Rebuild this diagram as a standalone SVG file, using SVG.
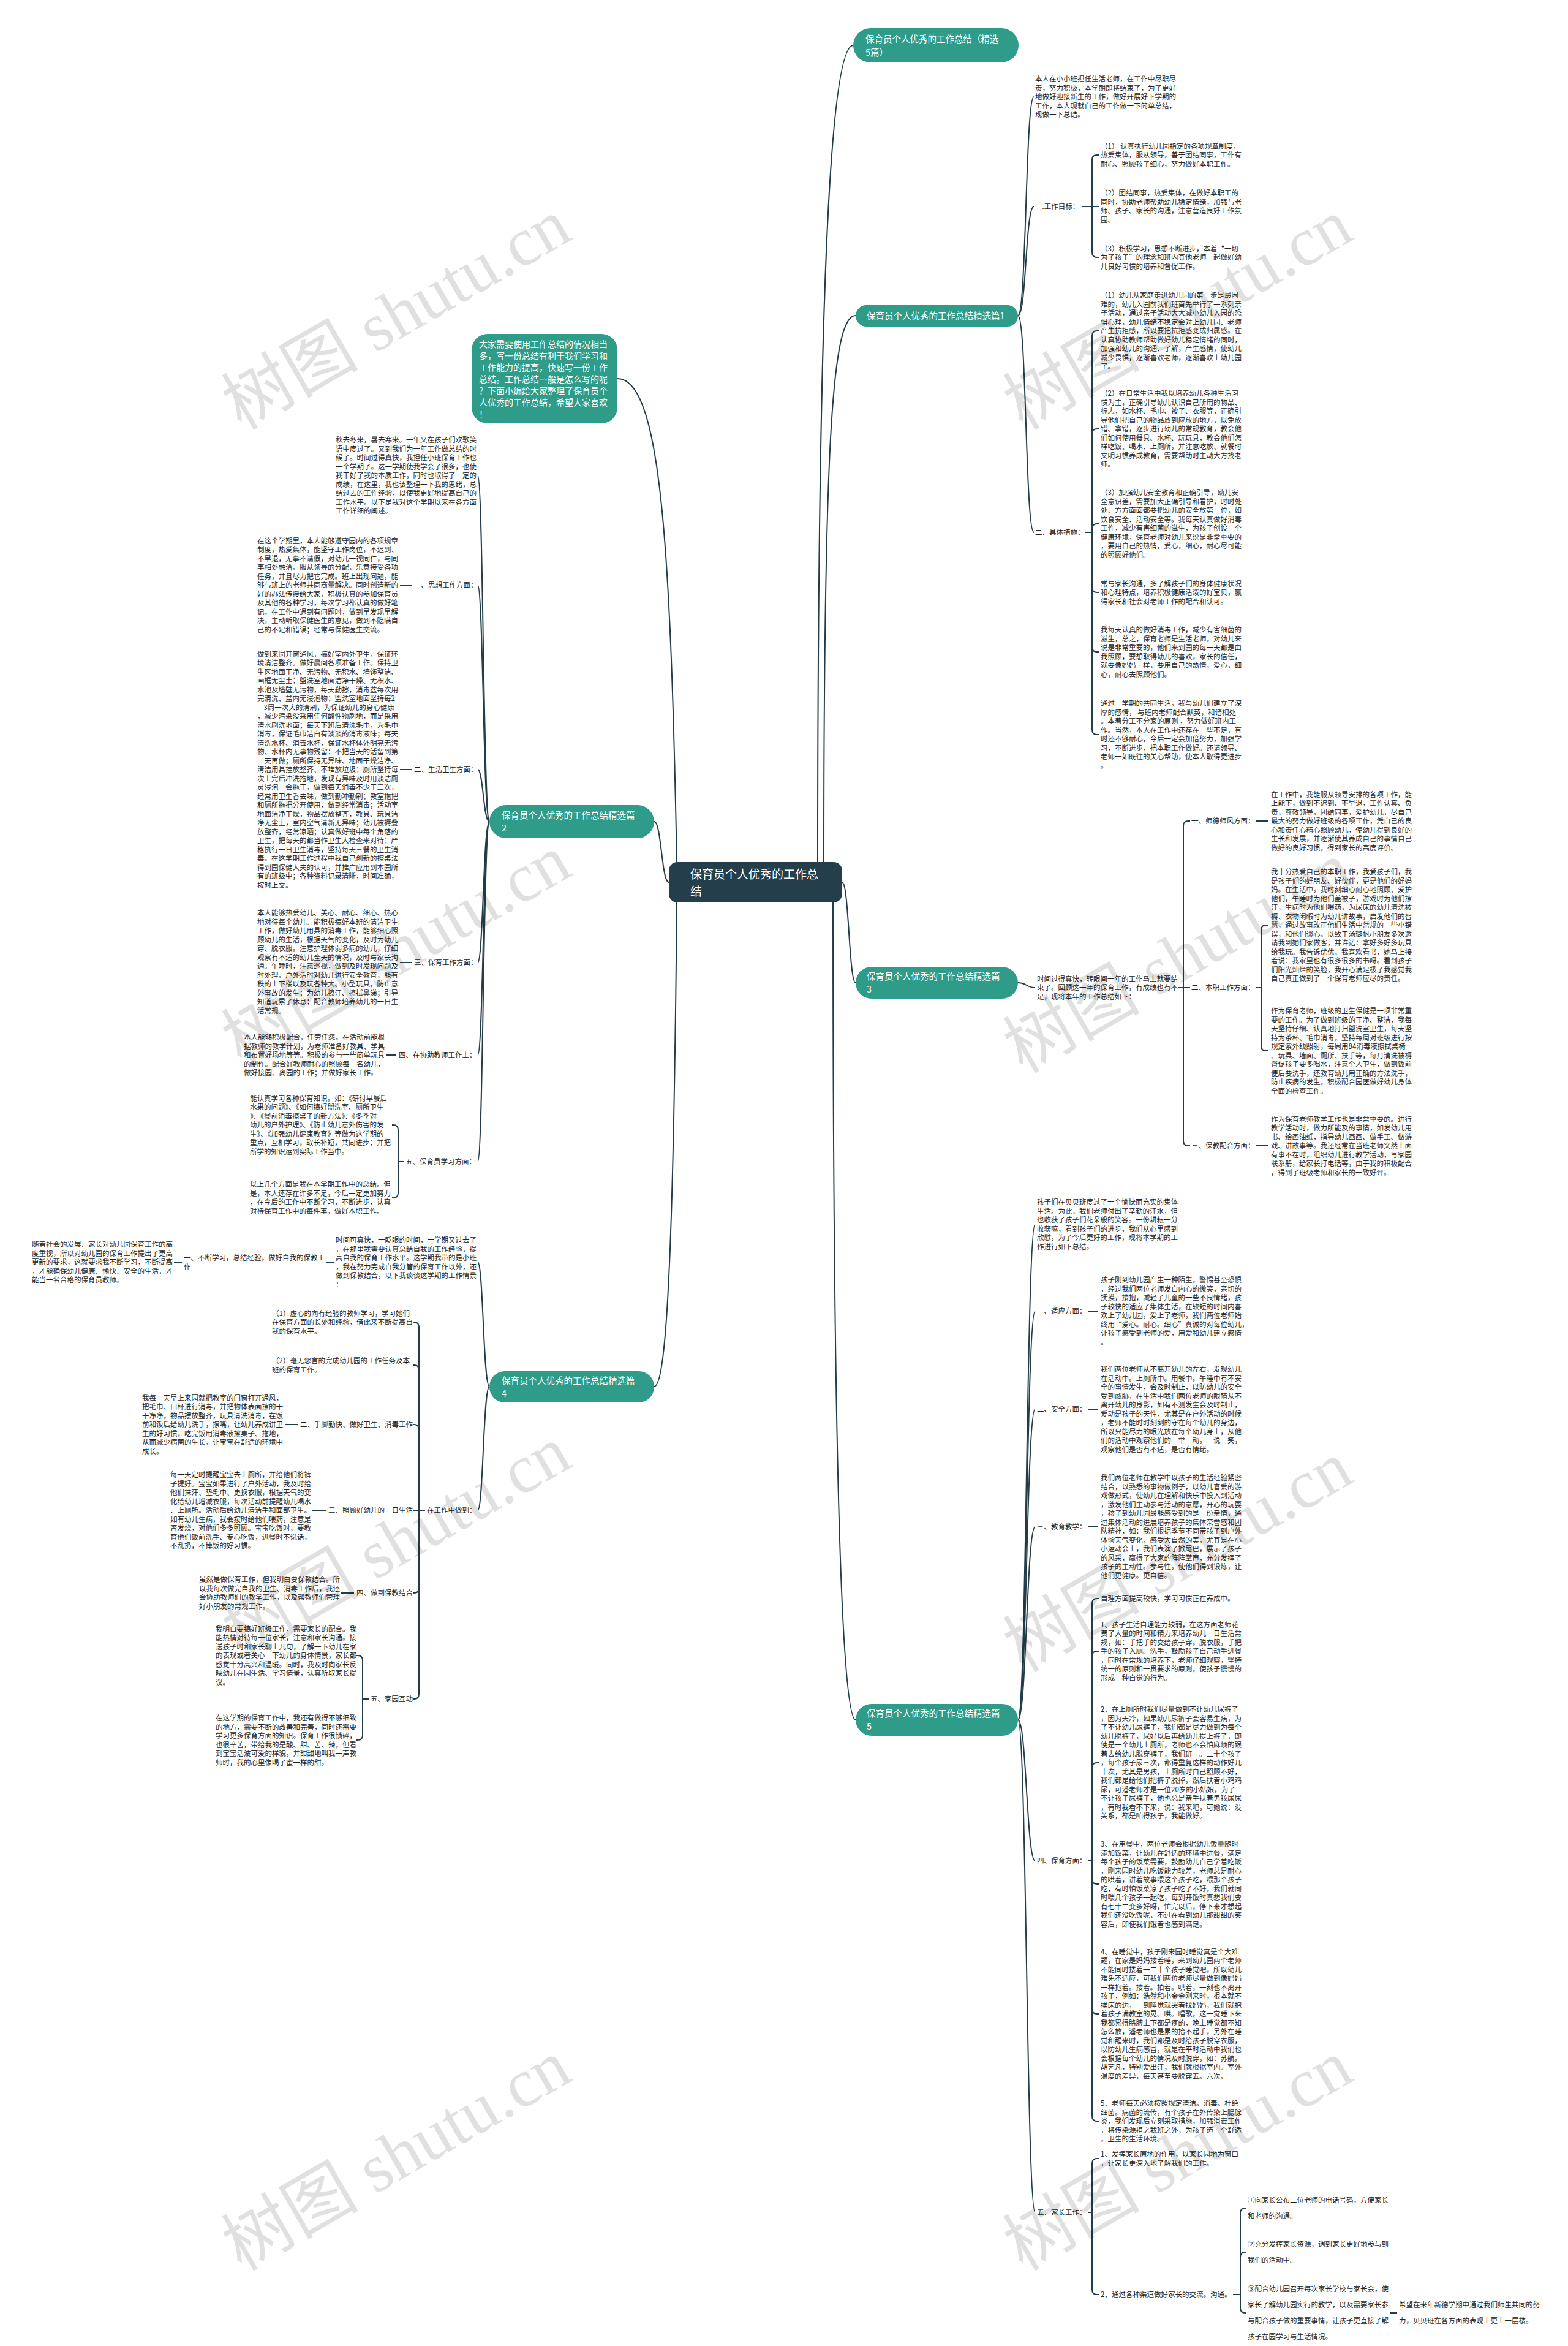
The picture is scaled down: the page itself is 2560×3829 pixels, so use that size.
<svg xmlns="http://www.w3.org/2000/svg" width="2560" height="3829" viewBox="0 0 2560 3829">
<style>
.t{font-family:"Noto Sans CJK SC","Noto Sans",sans-serif;font-size:11.5px;fill:#222}
.nt{font-family:"Noto Sans CJK SC","Noto Sans",sans-serif;font-size:14.5px;fill:#fff}
.ct{font-family:"Noto Sans CJK SC","Noto Sans",sans-serif;font-size:19px;fill:#fff}
.bt{font-family:"Noto Sans CJK SC","Noto Sans",sans-serif;font-size:14px;fill:#fff}
.n{fill:#2f9c89}
.c{fill:none;stroke:#233d48;stroke-width:2}
.wm{font-family:"Liberation Serif","Noto Sans CJK SC",serif;font-size:112px;fill:#000;fill-opacity:0.12}
</style>
<rect width="2560" height="3829" fill="#fff"/>
<g id="connectors">
<path class="c" d="M1335 1407 C1335 600 1350 74 1393 74"/>
<path class="c" d="M1345 1407 C1345 700 1360 515 1397 515"/>
<path class="c" d="M1375 1440 C1386 1440 1386 1604 1397 1604"/>
<path class="c" d="M1360 1473 C1360 2300 1372 2807 1397 2807"/>
<path class="c" d="M1105 1407 C1095 900 1080 618 1008 618"/>
<path class="c" d="M1092 1440 C1080 1440 1080 1341 1068 1341"/>
<path class="c" d="M1105 1473 C1100 2000 1090 2263 1068 2263"/>
<path class="c" d="M1662 515 C1676 515 1674 158 1688 158"/>
<path class="c" d="M1662 515 C1676 515 1674 337 1688 337"/>
<path class="c" d="M1662 515 C1676 515 1674 869 1688 869"/>
<path class="c" d="M1766 337 H1783 M1783 337 V261 Q1783 253 1791 253 H1795 M1783 337 H1795 M1783 337 V412 Q1783 420 1791 420 H1795"/>
<path class="c" d="M1772 869 H1783 M1783 869 V548 Q1783 540 1791 540 H1795 M1783 869 V708 Q1783 700 1791 700 H1795 M1783 869 V863 Q1783 855 1791 855 H1795 M1783 869 V959 Q1783 967 1791 967 H1795 M1783 869 V1056 Q1783 1064 1791 1064 H1795 M1783 869 V1191 Q1783 1199 1791 1199 H1795"/>
<path class="c" d="M1662 1604 C1676 1604 1676 1612 1690 1612"/>
<path class="c" d="M1923 1612 H1932 M1932 1612 V1348 Q1932 1340 1940 1340 H1943 M1932 1612 H1943 M1932 1612 V1862 Q1932 1870 1940 1870 H1943"/>
<path class="c" d="M2050 1340 H2071 M2050 1870 H2071"/>
<path class="c" d="M2050 1612 H2059 M2059 1612 V1518 Q2059 1510 2067 1510 H2071 M2059 1612 V1707 Q2059 1715 2067 1715 H2071"/>
<path class="c" d="M1662 2807 C1676 2807 1676 1998 1690 1998"/>
<path class="c" d="M1662 2807 C1676 2807 1676 2140 1690 2140"/>
<path class="c" d="M1662 2807 C1676 2807 1676 2300 1690 2300"/>
<path class="c" d="M1662 2807 C1676 2807 1676 2492 1690 2492"/>
<path class="c" d="M1662 2807 C1676 2807 1676 3037 1690 3037"/>
<path class="c" d="M1662 2807 C1676 2807 1676 3611 1690 3611"/>
<path class="c" d="M1776 2140 H1793 M1776 2300 H1793 M1776 2492 H1793"/>
<path class="c" d="M1776 3037 H1783 M1783 3037 V2617 Q1783 2609 1791 2609 H1795 M1783 3037 V2703 Q1783 2695 1791 2695 H1795 M1783 3037 V2885 Q1783 2877 1791 2877 H1795 M1783 3037 V3067 Q1783 3075 1791 3075 H1795 M1783 3037 V3279 Q1783 3287 1791 3287 H1795 M1783 3037 V3454 Q1783 3462 1791 3462 H1795"/>
<path class="c" d="M1776 3611 H1783 M1783 3611 V3531 Q1783 3523 1791 3523 H1795 M1783 3611 V3737 Q1783 3745 1791 3745 H1795"/>
<path class="c" d="M2013 3745 H2025 M2025 3745 V3612 Q2025 3604 2033 3604 H2035 M2025 3745 V3684 Q2025 3676 2033 3676 H2035 M2025 3745 V3767 Q2025 3775 2033 3775 H2035"/>
<path class="c" d="M2270 3775 H2281"/>
<path class="c" d="M799 1341 C789 1341 789 776 780 776"/>
<path class="c" d="M799 1341 C789 1341 789 955 780 955"/>
<path class="c" d="M799 1341 C789 1341 789 1256 780 1256"/>
<path class="c" d="M799 1341 C789 1341 789 1571 780 1571"/>
<path class="c" d="M799 1341 C789 1341 789 1722 780 1722"/>
<path class="c" d="M799 1341 C789 1341 789 1896 780 1896"/>
<path class="c" d="M653 955 H672 M653 1256 H672 M653 1571 H672 M631 1722 H647"/>
<path class="c" d="M650 1896 H659 M650 1896 V1844 Q650 1836 642 1836 H640 M650 1896 V1947 Q650 1955 642 1955 H640"/>
<path class="c" d="M799 2263 C789 2263 789 2060 780 2060"/>
<path class="c" d="M799 2263 C789 2263 789 2465 780 2465"/>
<path class="c" d="M532 2060 H545 M284 2060 H297"/>
<path class="c" d="M684 2465 H694 M684 2465 V2166 Q684 2158 676 2158 H674 M684 2465 V2236 Q684 2228 676 2228 H674 M684 2465 V2333 Q684 2325 676 2325 H674 M684 2465 H674 M684 2465 V2592 Q684 2600 676 2600 H674 M684 2465 V2765 Q684 2773 676 2773 H674"/>
<path class="c" d="M465 2325 H486 M510 2465 H532 M557 2600 H578"/>
<path class="c" d="M592 2773 H602 M592 2773 V2710 Q592 2702 584 2702 H582 M592 2773 V2832 Q592 2840 584 2840 H582"/>
</g>

<g id="center">
<rect x="1092" y="1407" width="283" height="66" rx="14" fill="#243f4b"/>
<text class="ct" x="1127" y="1434">保育员个人优秀的工作总</text>
<text class="ct" x="1127" y="1462">结</text>
</g>

<g id="intro-bubble">
<rect class="n" x="770" y="545" width="238" height="146" rx="26"/>
<text class="bt" x="782" y="567"><tspan x="782">大家需要使用工作总结的情况相当</tspan><tspan x="782" dy="19">多，写一份总结有利于我们学习和</tspan><tspan x="782" dy="19">工作能力的提高，快速写一份工作</tspan><tspan x="782" dy="19">总结。工作总结一般是怎么写的呢</tspan><tspan x="782" dy="19">？下面小编给大家整理了保育员个</tspan><tspan x="782" dy="19">人优秀的工作总结，希望大家喜欢</tspan><tspan x="782" dy="19">！</tspan></text>
</g>

<g id="branch1">
<rect class="n" x="1393" y="46" width="270" height="56" rx="28"/>
<text class="nt" x="1413" y="69">保育员个人优秀的工作总结（精选</text>
<text class="nt" x="1413" y="91">5篇）</text>
</g>

<g id="branch2">
<rect class="n" x="1397" y="498" width="265" height="35" rx="17.5"/>
<text class="nt" x="1415" y="521">保育员个人优秀的工作总结精选篇1</text>
<text class="t" x="1690" y="133"><tspan x="1690">本人在小小班担任生活老师，在工作中尽职尽</tspan><tspan x="1690" dy="14.5">责，努力积极，本学期即将结束了，为了更好</tspan><tspan x="1690" dy="14.5">地做好迎接新生的工作，做好开展好下学期的</tspan><tspan x="1690" dy="14.5">工作，本人现就自己的工作做一下简单总结，</tspan><tspan x="1690" dy="14.5">现做一下总结。</tspan></text>
<text class="t" x="1690" y="341">一.工作目标：</text>
<text class="t" x="1797" y="242.5"><tspan x="1797">（1） 认真执行幼儿园指定的各项规章制度，</tspan><tspan x="1797" dy="14.5">热爱集体，服从领导，善于团结同事，工作有</tspan><tspan x="1797" dy="14.5">耐心、照顾孩子细心，努力做好本职工作。</tspan></text>
<text class="t" x="1797" y="319"><tspan x="1797">（2）团结同事，热爱集体，在做好本职工的</tspan><tspan x="1797" dy="14.5">同时，协助老师帮助幼儿稳定情绪，加强与老</tspan><tspan x="1797" dy="14.5">师、孩子、家长的沟通，注意营造良好工作氛</tspan><tspan x="1797" dy="14.5">围。</tspan></text>
<text class="t" x="1797" y="409.5"><tspan x="1797">（3）积极学习，思想不断进步，本着“一切</tspan><tspan x="1797" dy="14.5">为了孩子”的理念和班内其他老师一起做好幼</tspan><tspan x="1797" dy="14.5">儿良好习惯的培养和督促工作。</tspan></text>
<text class="t" x="1690" y="873">二、具体措施：</text>
<text class="t" x="1797" y="486"><tspan x="1797">（1）幼儿从家庭走进幼儿园的第一步是最困</tspan><tspan x="1797" dy="14.5">难的，幼儿入园前我们班首先举行了一系列亲</tspan><tspan x="1797" dy="14.5">子活动，通过亲子活动大大减小幼儿入园的恐</tspan><tspan x="1797" dy="14.5">惧心理，幼儿情绪不稳定会对上幼儿园、老师</tspan><tspan x="1797" dy="14.5">产生抗拒感，所以要把抗拒感变成归属感。在</tspan><tspan x="1797" dy="14.5">认真协助教师帮助做好幼儿稳定情绪的同时，</tspan><tspan x="1797" dy="14.5">加强和幼儿的沟通、了解，产生感情，使幼儿</tspan><tspan x="1797" dy="14.5">减少畏惧，逐渐喜欢老师，逐渐喜欢上幼儿园</tspan><tspan x="1797" dy="14.5">了。</tspan></text>
<text class="t" x="1797" y="646"><tspan x="1797">（2）在日常生活中我以培养幼儿各种生活习</tspan><tspan x="1797" dy="14.5">惯为主，正确引导幼儿认识自己所用的物品、</tspan><tspan x="1797" dy="14.5">标志，如水杯、毛巾、被子、衣服等，正确引</tspan><tspan x="1797" dy="14.5">导他们把自己的物品放到应放的地方，以免放</tspan><tspan x="1797" dy="14.5">错、拿错，逐步进行幼儿的常规教育，教会他</tspan><tspan x="1797" dy="14.5">们如何使用餐具、水杯、玩玩具，教会他们怎</tspan><tspan x="1797" dy="14.5">样吃饭、喝水、上厕所，并注意吃放、就餐时</tspan><tspan x="1797" dy="14.5">文明习惯养成教育，需要帮助时主动大方找老</tspan><tspan x="1797" dy="14.5">师。</tspan></text>
<text class="t" x="1797" y="808"><tspan x="1797">（3）加强幼儿安全教育和正确引导，幼儿安</tspan><tspan x="1797" dy="14.5">全意识差，需要加大正确引导和看护，时时处</tspan><tspan x="1797" dy="14.5">处、方方面面都要把幼儿的安全放第一位，如</tspan><tspan x="1797" dy="14.5">饮食安全、活动安全等。我每天认真做好消毒</tspan><tspan x="1797" dy="14.5">工作，减少有害细菌的滋生，为孩子创设一个</tspan><tspan x="1797" dy="14.5">健康环境，保育老师对幼儿来说是非常重要的</tspan><tspan x="1797" dy="14.5">，要用自己的热情，爱心，细心，耐心尽可能</tspan><tspan x="1797" dy="14.5">的照顾好他们。</tspan></text>
<text class="t" x="1797" y="956.5"><tspan x="1797">常与家长沟通，多了解孩子们的身体健康状况</tspan><tspan x="1797" dy="14.5">和心理特点，培养积极健康活泼的好宝贝，赢</tspan><tspan x="1797" dy="14.5">得家长和社会对老师工作的配合和认可。</tspan></text>
<text class="t" x="1797" y="1032"><tspan x="1797">我每天认真的做好消毒工作，减少有害细菌的</tspan><tspan x="1797" dy="14.5">滋生，总之，保育老师是生活老师，对幼儿来</tspan><tspan x="1797" dy="14.5">说是非常重要的，他们来到园的每一天都是由</tspan><tspan x="1797" dy="14.5">我照顾，要想取得幼儿的喜欢，家长的信任，</tspan><tspan x="1797" dy="14.5">就要像妈妈一样，要用自己的热情，爱心，细</tspan><tspan x="1797" dy="14.5">心，耐心去照顾他们。</tspan></text>
<text class="t" x="1797" y="1152"><tspan x="1797">通过一学期的共同生活，我与幼儿们建立了深</tspan><tspan x="1797" dy="14.5">厚的感情， 与班内老师配合默契，和谐相处</tspan><tspan x="1797" dy="14.5">。本着分工不分家的原则 ，努力做好班内工</tspan><tspan x="1797" dy="14.5">作。当然，本人在工作中还存在一些不足，有</tspan><tspan x="1797" dy="14.5">时还不够耐心，今后一定会加倍努力，加强学</tspan><tspan x="1797" dy="14.5">习，不断进步，把本职工作做好。还请领导、</tspan><tspan x="1797" dy="14.5">老师一如既往的关心帮助，使本人取得更进步</tspan><tspan x="1797" dy="14.5">。</tspan></text>
</g>

<g id="branch3">
<rect class="n" x="1397" y="1578" width="265" height="52" rx="26"/>
<text class="nt" x="1415" y="1599">保育员个人优秀的工作总结精选篇</text>
<text class="nt" x="1415" y="1620">3</text>
<text class="t" x="1693" y="1601.5"><tspan x="1693">时间过得真快，转眼间一年的工作马上就要结</tspan><tspan x="1693" dy="14.5">束了。回顾这一年的保育工作，有成绩也有不</tspan><tspan x="1693" dy="14.5">足，现将本年的工作总结如下：</tspan></text>
<text class="t" x="1945" y="1344">一、师德师风方面：</text>
<text class="t" x="1945" y="1616">二、本职工作方面：</text>
<text class="t" x="1945" y="1874">三、保教配合方面：</text>
<text class="t" x="2075" y="1300.5"><tspan x="2075">在工作中，我能服从领导安排的各项工作，能</tspan><tspan x="2075" dy="14.5">上能下，做到不迟到、不早退，工作认真、负</tspan><tspan x="2075" dy="14.5">责，尊敬领导，团结同事，爱护幼儿，尽自己</tspan><tspan x="2075" dy="14.5">最大的努力做好班级的各项工作，凭自己的良</tspan><tspan x="2075" dy="14.5">心和责任心精心照顾幼儿，使幼儿得到良好的</tspan><tspan x="2075" dy="14.5">生长和发展，并逐渐使其养成自己的事情自己</tspan><tspan x="2075" dy="14.5">做好的良好习惯，得到家长的高度评价。</tspan></text>
<text class="t" x="2075" y="1427"><tspan x="2075">我十分热爱自己的本职工作，我爱孩子们，我</tspan><tspan x="2075" dy="14.5">是孩子们的好朋友、好伙伴，更是他们的好妈</tspan><tspan x="2075" dy="14.5">妈。在生活中，我时刻细心耐心地照顾、爱护</tspan><tspan x="2075" dy="14.5">他们，午睡时为他们盖被子，游戏时为他们擦</tspan><tspan x="2075" dy="14.5">汗，生病时为他们喂药，为尿床的幼儿清洗被</tspan><tspan x="2075" dy="14.5">褥、衣物闲暇时为幼儿讲故事，启发他们的智</tspan><tspan x="2075" dy="14.5">慧，通过故事改正他们生活中常规的一些小错</tspan><tspan x="2075" dy="14.5">误，和他们谈心。以致于汤璐帆小朋友多次邀</tspan><tspan x="2075" dy="14.5">请我到她们家做客，并许诺：拿好多好多玩具</tspan><tspan x="2075" dy="14.5">给我玩。我告诉优优，我喜欢看书，她马上接</tspan><tspan x="2075" dy="14.5">着说：我家里也有很多很多的书呀。看到孩子</tspan><tspan x="2075" dy="14.5">们阳光灿烂的笑脸，我开心满足极了我感觉我</tspan><tspan x="2075" dy="14.5">自己真正做到了一个保育老师应尽的责任。</tspan></text>
<text class="t" x="2075" y="1654"><tspan x="2075">作为保育老师，班级的卫生保健是一项非常重</tspan><tspan x="2075" dy="14.5">要的工作。为了做到班级的干净、整洁，我每</tspan><tspan x="2075" dy="14.5">天坚持仔细、认真地打扫盥洗室卫生，每天坚</tspan><tspan x="2075" dy="14.5">持为茶杯、毛巾消毒，坚持每周对班级进行按</tspan><tspan x="2075" dy="14.5">规定紫外线照射，每周用84消毒液擦拭桌椅</tspan><tspan x="2075" dy="14.5">、玩具、墙面、厕所、扶手等，每月清洗被褥</tspan><tspan x="2075" dy="14.5">督促孩子要多喝水，注意个人卫生，做到饭前</tspan><tspan x="2075" dy="14.5">便后要洗手，还教育幼儿用正确的方法洗手，</tspan><tspan x="2075" dy="14.5">防止疾病的发生，积极配合园医做好幼儿身体</tspan><tspan x="2075" dy="14.5">全面的检查工作。</tspan></text>
<text class="t" x="2075" y="1830.5"><tspan x="2075">作为保育老师教学工作也是非常重要的。进行</tspan><tspan x="2075" dy="14.5">教学活动时，做力所能及的事情，如发幼儿用</tspan><tspan x="2075" dy="14.5">书、绘画油纸，指导幼儿画画、做手工、做游</tspan><tspan x="2075" dy="14.5">戏、讲故事等。我还经常在当班老师突然上面</tspan><tspan x="2075" dy="14.5">有事不在时，组织幼儿进行教学活动，写家园</tspan><tspan x="2075" dy="14.5">联系册，给家长打电话等，由于我的积极配合</tspan><tspan x="2075" dy="14.5">，得到了班级老师和家长的一致好评。</tspan></text>
</g>

<g id="branch5">
<rect class="n" x="1397" y="2781" width="265" height="52" rx="26"/>
<text class="nt" x="1415" y="2802">保育员个人优秀的工作总结精选篇</text>
<text class="nt" x="1415" y="2823">5</text>
<text class="t" x="1693" y="1966"><tspan x="1693">孩子们在贝贝班度过了一个愉快而充实的集体</tspan><tspan x="1693" dy="14.5">生活。为此，我们老师付出了辛勤的汗水，但</tspan><tspan x="1693" dy="14.5">也收获了孩子们花朵般的笑容。一份耕耘一分</tspan><tspan x="1693" dy="14.5">收获嘛，看到孩子们的进步，我们从心里感到</tspan><tspan x="1693" dy="14.5">欣慰，为了今后更好的工作，现将本学期的工</tspan><tspan x="1693" dy="14.5">作进行如下总结。</tspan></text>
<text class="t" x="1693" y="2144">一、适应方面：</text>
<text class="t" x="1693" y="2304">二、安全方面：</text>
<text class="t" x="1693" y="2496">三、教育教学：</text>
<text class="t" x="1693" y="3041">四、保育方面：</text>
<text class="t" x="1693" y="3615">五、家长工作：</text>
<text class="t" x="1797" y="2093"><tspan x="1797">孩子刚到幼儿园产生一种陌生，警惕甚至恐惧</tspan><tspan x="1797" dy="14.5">，经过我们两位老师发自内心的微笑，亲切的</tspan><tspan x="1797" dy="14.5">抚摸，搂抱，减轻了儿童的一些不良情绪，孩</tspan><tspan x="1797" dy="14.5">子较快的适应了集体生活，在较短的时间内喜</tspan><tspan x="1797" dy="14.5">欢上了幼儿园，爱上了老师，我们两位老师始</tspan><tspan x="1797" dy="14.5">终用“爱心。耐心。细心”真诚的对每位幼儿，</tspan><tspan x="1797" dy="14.5">让孩子感受到老师的爱，用爱和幼儿建立感情</tspan><tspan x="1797" dy="14.5">。</tspan></text>
<text class="t" x="1797" y="2239"><tspan x="1797">我们两位老师从不离开幼儿的左右，发现幼儿</tspan><tspan x="1797" dy="14.5">在活动中。上厕所中。用餐中。午睡中有不安</tspan><tspan x="1797" dy="14.5">全的事情发生，会及时制止，以防幼儿的安全</tspan><tspan x="1797" dy="14.5">受到威胁，在生活中我们两位老师的眼睛从不</tspan><tspan x="1797" dy="14.5">离开幼儿的身影，如有不测发生会及时制止，</tspan><tspan x="1797" dy="14.5">爱动是孩子的天性，尤其是在户外活动的时候</tspan><tspan x="1797" dy="14.5">，老师不能时时刻刻的守在每个幼儿的身边，</tspan><tspan x="1797" dy="14.5">所以只能尽力的眼光放在每个幼儿身上，从他</tspan><tspan x="1797" dy="14.5">们的活动中观察他们的一举一动，一说一笑，</tspan><tspan x="1797" dy="14.5">观察他们是否有不适，是否有情绪。</tspan></text>
<text class="t" x="1797" y="2416"><tspan x="1797">我们两位老师在教学中以孩子的生活经验紧密</tspan><tspan x="1797" dy="14.5">结合，以熟悉的事物做例子，以幼儿喜爱的游</tspan><tspan x="1797" dy="14.5">戏做形式，使幼儿在理解和快乐中投入到活动</tspan><tspan x="1797" dy="14.5">，激发他们主动参与活动的意愿，开心的玩耍</tspan><tspan x="1797" dy="14.5">，孩子到幼儿园最能感受到的是一份亲情，通</tspan><tspan x="1797" dy="14.5">过集体活动的进展培养孩子的集体荣誉感和团</tspan><tspan x="1797" dy="14.5">队精神，如：我们根据季节不同带孩子到户外</tspan><tspan x="1797" dy="14.5">体验天气变化，感受大自然的美，尤其是在小</tspan><tspan x="1797" dy="14.5">小运动会上，我们表演了掀尾巴，展示了孩子</tspan><tspan x="1797" dy="14.5">的风采，赢得了大家的阵阵掌声，充分发挥了</tspan><tspan x="1797" dy="14.5">孩子的主动性。参与性，使他们得到锻炼，让</tspan><tspan x="1797" dy="14.5">他们更健康。更自信。</tspan></text>
<text class="t" x="1797" y="2613">自理方面提高较快，学习习惯正在养成中。</text>
<text class="t" x="1797" y="2655.5"><tspan x="1797">1、孩子生活自理能力较弱，在这方面老师花</tspan><tspan x="1797" dy="14.5">费了大量的时间和精力来培养幼儿一日生活常</tspan><tspan x="1797" dy="14.5">规，如：手把手的交给孩子穿。脱衣服，手把</tspan><tspan x="1797" dy="14.5">手的孩子入厕。洗手，鼓励孩子自己动手进餐</tspan><tspan x="1797" dy="14.5">，同时在常规的培养下，老师仔细观察，坚持</tspan><tspan x="1797" dy="14.5">统一的原则和一贯要求的原则，使孩子慢慢的</tspan><tspan x="1797" dy="14.5">形成一种自觉的行为。</tspan></text>
<text class="t" x="1797" y="2794"><tspan x="1797">2、在上厕所时我们尽量做到不让幼儿尿裤子</tspan><tspan x="1797" dy="14.5">，因为天冷，如果幼儿尿裤子会容易生病，为</tspan><tspan x="1797" dy="14.5">了不让幼儿尿裤子，我们都是尽力做到为每个</tspan><tspan x="1797" dy="14.5">幼儿脱裤子，尿好以后再给幼儿提上裤子，即</tspan><tspan x="1797" dy="14.5">使是一个幼儿上厕所，老师也不会怕麻烦的跟</tspan><tspan x="1797" dy="14.5">着去给幼儿脱穿裤子，我们班一。二十个孩子</tspan><tspan x="1797" dy="14.5">，每个孩子尿三次，都得重复这样的动作好几</tspan><tspan x="1797" dy="14.5">十次，尤其是男孩，上厕所时自己照顾不好，</tspan><tspan x="1797" dy="14.5">我们都是给他们把裤子脱掉，然后扶着小鸡鸡</tspan><tspan x="1797" dy="14.5">尿，可潘老师才是一位20岁的小姑娘，为了</tspan><tspan x="1797" dy="14.5">不让孩子尿裤子，他也总是亲手扶着男孩尿尿</tspan><tspan x="1797" dy="14.5">，有时我看不下来，说：我来吧，可她说：没</tspan><tspan x="1797" dy="14.5">关系，都是咱得孩子，我能做好。</tspan></text>
<text class="t" x="1797" y="3014"><tspan x="1797">3、在用餐中，两位老师会根据幼儿饭量随时</tspan><tspan x="1797" dy="14.5">添加饭菜，让幼儿在舒适的环境中进餐，满足</tspan><tspan x="1797" dy="14.5">每个孩子的饭菜需要，鼓励幼儿自己学着吃饭</tspan><tspan x="1797" dy="14.5">，刚来园时幼儿吃饭能力较差，老师总是耐心</tspan><tspan x="1797" dy="14.5">的哄着，讲着故事喂这个孩子吃，喂那个孩子</tspan><tspan x="1797" dy="14.5">吃，有时怕饭菜凉了孩子吃了不好，我们就同</tspan><tspan x="1797" dy="14.5">时喂几个孩子一起吃，每到开饭时真想我们要</tspan><tspan x="1797" dy="14.5">有七十二变多好呀，忙完以后，停下来才想起</tspan><tspan x="1797" dy="14.5">我们还没吃饭呢，不过在看到幼儿那甜甜的笑</tspan><tspan x="1797" dy="14.5">容后，即使我们饿着也感到满足。</tspan></text>
<text class="t" x="1797" y="3189.5"><tspan x="1797">4、在睡觉中，孩子刚来园时睡觉真是个大难</tspan><tspan x="1797" dy="14.5">题，在家是妈妈搂着睡，来到幼儿园两个老师</tspan><tspan x="1797" dy="14.5">不能同时搂着一二十个孩子睡觉吧，所以幼儿</tspan><tspan x="1797" dy="14.5">难免不适应，可我们两位老师尽量做到像妈妈</tspan><tspan x="1797" dy="14.5">一样抱着。搂着。拍着。哄着，一刻也不离开</tspan><tspan x="1797" dy="14.5">孩子，例如：浩然和小金金刚来时，根本就不</tspan><tspan x="1797" dy="14.5">挨床的边，一到睡觉就哭着找妈妈，我们就抱</tspan><tspan x="1797" dy="14.5">着孩子满教室的晃。哄。唱歌，这一觉睡下来</tspan><tspan x="1797" dy="14.5">我都累得胳膊上下都是疼的，晚上睡觉都不知</tspan><tspan x="1797" dy="14.5">怎么放，潘老师也是累的抬不起手，另外在睡</tspan><tspan x="1797" dy="14.5">觉和醒来时，我们都是及时给孩子脱穿衣服，</tspan><tspan x="1797" dy="14.5">以防幼儿生病感冒，就是在平时活动中我们也</tspan><tspan x="1797" dy="14.5">会根据每个幼儿的情况及时脱穿，如：苏航。</tspan><tspan x="1797" dy="14.5">胡艺凡，特别爱出汗，我们就根据室内。室外</tspan><tspan x="1797" dy="14.5">温度的差异，每天甚至要脱穿五。六次。</tspan></text>
<text class="t" x="1797" y="3437"><tspan x="1797">5、老师每天必须按照规定清洁。消毒。杜绝</tspan><tspan x="1797" dy="14.5">细菌。病菌的流传，有个孩子在外传染上腮腺</tspan><tspan x="1797" dy="14.5">炎，我们发现后立刻采取措施，加强消毒工作</tspan><tspan x="1797" dy="14.5">，将传染源拒之我班之外，为孩子造一个舒适</tspan><tspan x="1797" dy="14.5">。卫生的生活环境。</tspan></text>
<text class="t" x="1797" y="3520"><tspan x="1797">1、发挥家长原地的作用，以家长园地为窗口</tspan><tspan x="1797" dy="14.5">，让家长更深入地了解我们的工作。</tspan></text>
<text class="t" x="1797" y="3749">2、通过各种渠道做好家长的交流。沟通。</text>
<text class="t" x="2037" y="3595"><tspan x="2037">①向家长公布二位老师的电话号码，方便家长</tspan><tspan x="2037" dy="26">和老师的沟通。</tspan></text>
<text class="t" x="2037" y="3667"><tspan x="2037">②充分发挥家长资源，调到家长更好地参与到</tspan><tspan x="2037" dy="26">我们的活动中。</tspan></text>
<text class="t" x="2037" y="3740"><tspan x="2037">③配合幼儿园召开每次家长学校与家长会，使</tspan><tspan x="2037" dy="26">家长了解幼儿园实行的教学，以及需要家长参</tspan><tspan x="2037" dy="26">与配合孩子做的重要事情，让孩子更直接了解</tspan><tspan x="2037" dy="26">孩子在园学习与生活情况。</tspan></text>
<text class="t" x="2284" y="3766"><tspan x="2284">希望在来年新德学期中通过我们师生共同的努</tspan><tspan x="2284" dy="26">力，贝贝班在各方面的表现上更上一层楼。</tspan></text>
</g>

<g id="branch2-left">
<rect class="n" x="799" y="1314" width="269" height="54" rx="27"/>
<text class="nt" x="819" y="1336">保育员个人优秀的工作总结精选篇</text>
<text class="nt" x="819" y="1357">2</text>
<text class="t" x="548" y="722"><tspan x="548">秋去冬来，暑去寒来。一年又在孩子们欢歌笑</tspan><tspan x="548" dy="14.5">语中度过了。又到我们为一年工作做总结的时</tspan><tspan x="548" dy="14.5">候了。时间过得真快，我担任小班保育工作也</tspan><tspan x="548" dy="14.5">一个学期了。这一学期使我学会了很多，也使</tspan><tspan x="548" dy="14.5">我干好了我的本质工作，同时也取得了一定的</tspan><tspan x="548" dy="14.5">成绩，在这里，我也该整理一下我的思绪，总</tspan><tspan x="548" dy="14.5">结过去的工作经验，以使我更好地提高自己的</tspan><tspan x="548" dy="14.5">工作水平。以下是我对这个学期以来在各方面</tspan><tspan x="548" dy="14.5">工作详细的阐述。</tspan></text>
<text class="t" x="676" y="959">一、思想工作方面：</text>
<text class="t" x="676" y="1260">二、生活卫生方面：</text>
<text class="t" x="676" y="1575">三、保育工作方面：</text>
<text class="t" x="651" y="1726">四、在协助教师工作上：</text>
<text class="t" x="662" y="1900">五、保育员学习方面：</text>
<text class="t" x="420" y="886.5"><tspan x="420">在这个学期里，本人能够遵守园内的各项规章</tspan><tspan x="420" dy="14.5">制度，热爱集体，能坚守工作岗位，不迟到、</tspan><tspan x="420" dy="14.5">不早退，无事不请假，对幼儿一视同仁，与同</tspan><tspan x="420" dy="14.5">事相处融洽。服从领导的分配，乐意接受各项</tspan><tspan x="420" dy="14.5">任务，并且尽力把它完成。班上出现问题，能</tspan><tspan x="420" dy="14.5">够与班上的老师共同商量解决。同时创造新的</tspan><tspan x="420" dy="14.5">好的办法传授给大家，积极认真的参加保育员</tspan><tspan x="420" dy="14.5">及其他的各种学习，每次学习都认真的做好笔</tspan><tspan x="420" dy="14.5">记，在工作中遇到有问题时，做到早发现早解</tspan><tspan x="420" dy="14.5">决，主动听取保健医生的意见，做到不隐瞒自</tspan><tspan x="420" dy="14.5">己的不足和错误；经常与保健医生交流。</tspan></text>
<text class="t" x="420" y="1071.5"><tspan x="420">做到来园开窗通风，搞好室内外卫生，保证环</tspan><tspan x="420" dy="14.5">境清洁整齐。做好晨间各项准备工作。保持卫</tspan><tspan x="420" dy="14.5">生区地面干净、无污物、无积水、墙饰整洁、</tspan><tspan x="420" dy="14.5">画框无尘土；盥洗室地面洁净干燥、无积水、</tspan><tspan x="420" dy="14.5">水池及墙壁无污物，每天勤擦，消毒盆每次用</tspan><tspan x="420" dy="14.5">完清洗、盆内无浸泡物；盥洗室地面坚持每2</tspan><tspan x="420" dy="14.5">—3周一次大的清刷，为保证幼儿的身心健康</tspan><tspan x="420" dy="14.5">，减少污染没采用任何酸性物刷地，而是采用</tspan><tspan x="420" dy="14.5">清水刷洗地面；每天下班后清洗毛巾，为毛巾</tspan><tspan x="420" dy="14.5">消毒，保证毛巾洁白有淡淡的消毒液味；每天</tspan><tspan x="420" dy="14.5">清洗水杯、消毒水杯，保证水杯体外明亮无污</tspan><tspan x="420" dy="14.5">物、水杯内无事物残留；不把当天的活留到第</tspan><tspan x="420" dy="14.5">二天再做；厕所保持无异味、地面干燥洁净、</tspan><tspan x="420" dy="14.5">清洁用具挂放整齐、不堆放垃圾；厕所坚持每</tspan><tspan x="420" dy="14.5">次上完后冲洗拖地，发现有异味及时用淡洁厕</tspan><tspan x="420" dy="14.5">灵浸泡一会拖干，做到每天消毒不少于三次，</tspan><tspan x="420" dy="14.5">经常用卫生香去味，做到勤冲勤刷；教室拖把</tspan><tspan x="420" dy="14.5">和厕所拖把分开使用，做到经常消毒；活动室</tspan><tspan x="420" dy="14.5">地面洁净干燥，物品摆放整齐，教具、玩具洁</tspan><tspan x="420" dy="14.5">净无尘土，室内空气清新无异味；幼儿被褥叠</tspan><tspan x="420" dy="14.5">放整齐，经常凉晒；认真做好班中每个角落的</tspan><tspan x="420" dy="14.5">卫生，把每天的都当作卫生大检查来对待；严</tspan><tspan x="420" dy="14.5">格执行一日卫生消毒，坚持每天三餐的卫生消</tspan><tspan x="420" dy="14.5">毒。在这学期工作过程中我自己创新的擦桌法</tspan><tspan x="420" dy="14.5">得到园保健大夫的认可，并推广应用到本园所</tspan><tspan x="420" dy="14.5">有的班级中；各种资料记录清晰，时间准确，</tspan><tspan x="420" dy="14.5">按时上交。</tspan></text>
<text class="t" x="420" y="1494"><tspan x="420">本人能够热爱幼儿、关心、耐心、细心、热心</tspan><tspan x="420" dy="14.5">地对待每个幼儿。能积极搞好本班的清洁卫生</tspan><tspan x="420" dy="14.5">工作，做好幼儿用具的消毒工作，能够细心照</tspan><tspan x="420" dy="14.5">顾幼儿的生活，根据天气的变化，及时为幼儿</tspan><tspan x="420" dy="14.5">穿、脱衣服。注意护理体弱多病的幼儿，仔细</tspan><tspan x="420" dy="14.5">观察有不适的幼儿全天的情况，及时与家长沟</tspan><tspan x="420" dy="14.5">通。午睡时，注意巡视，做到及时发现问题及</tspan><tspan x="420" dy="14.5">时处理。户外活时对幼儿进行安全教育，能有</tspan><tspan x="420" dy="14.5">秩的上下楼以及玩各种大、小型玩具，防止意</tspan><tspan x="420" dy="14.5">外事故的发生；为幼儿擦汗、擦拭鼻涕；引导</tspan><tspan x="420" dy="14.5">知道玩累了休息；配合教师培养幼儿的一日生</tspan><tspan x="420" dy="14.5">活常规。</tspan></text>
<text class="t" x="398" y="1697"><tspan x="398">本人能够积极配合，任劳任怨。在活动前能根</tspan><tspan x="398" dy="14.5">据教师的教学计划，为老师准备好教具、学具</tspan><tspan x="398" dy="14.5">和布置好场地等等。积极的参与一些简单玩具</tspan><tspan x="398" dy="14.5">的制作。配合好教师耐心的照顾每一名幼儿，</tspan><tspan x="398" dy="14.5">做好接园、离园的工作；并做好家长工作。</tspan></text>
<text class="t" x="408" y="1796.5"><tspan x="408">能认真学习各种保育知识。如：《研讨早餐后</tspan><tspan x="408" dy="14.5">水果的问题》、《如何搞好盥洗室、厕所卫生</tspan><tspan x="408" dy="14.5">》、《餐前消毒擦桌子的新方法》、《冬季对</tspan><tspan x="408" dy="14.5">幼儿的户外护理》、《防止幼儿意外伤害的发</tspan><tspan x="408" dy="14.5">生》、《加强幼儿健康教育》等做为这学期的</tspan><tspan x="408" dy="14.5">重点，互相学习，取长补短，共同进步；并把</tspan><tspan x="408" dy="14.5">所学的知识运到实际工作当中。</tspan></text>
<text class="t" x="408" y="1937"><tspan x="408">以上几个方面是我在本学期工作中的总结。但</tspan><tspan x="408" dy="14.5">是，本人还存在许多不足，今后一定更加努力</tspan><tspan x="408" dy="14.5">，在今后的工作中不断学习，不断进步，认真</tspan><tspan x="408" dy="14.5">对待保育工作中的每件事，做好本职工作。</tspan></text>
</g>

<g id="branch4-left">
<rect class="n" x="799" y="2238" width="269" height="51" rx="25"/>
<text class="nt" x="819" y="2259">保育员个人优秀的工作总结精选篇</text>
<text class="nt" x="819" y="2280">4</text>
<text class="t" x="548" y="2028"><tspan x="548">时间可真快，一眨眼的时间，一学期又过去了</tspan><tspan x="548" dy="14.5">，在那里我需要认真总结自我的工作经验，提</tspan><tspan x="548" dy="14.5">高自我的保育工作水平。这学期我带的是小班</tspan><tspan x="548" dy="14.5">，我在努力完成自我分管的保育工作以外，还</tspan><tspan x="548" dy="14.5">做到保教结合，以下我谈谈这学期的工作情景</tspan><tspan x="548" dy="14.5">：</tspan></text>
<text class="t" x="300" y="2057"><tspan x="300">一、不断学习，总结经验，做好自我的保教工</tspan><tspan x="300" dy="14.5">作</tspan></text>
<text class="t" x="52" y="2035"><tspan x="52">随着社会的发展、家长对幼儿园保育工作的高</tspan><tspan x="52" dy="14.5">度重视，所以对幼儿园的保育工作提出了更高</tspan><tspan x="52" dy="14.5">更新的要求，这就要求我不断学习，不断提高</tspan><tspan x="52" dy="14.5">，才能确保幼儿健康、愉快、安全的生活，才</tspan><tspan x="52" dy="14.5">能当一名合格的保育员教师。</tspan></text>
<text class="t" x="697" y="2469">在工作中做到：</text>
<text class="t" x="444" y="2147.5"><tspan x="444">（1）虚心的向有经验的教师学习，学习她们</tspan><tspan x="444" dy="14.5">在保育方面的长处和经验，借此来不断提高自</tspan><tspan x="444" dy="14.5">我的保育水平。</tspan></text>
<text class="t" x="444" y="2225"><tspan x="444">（2）毫无怨言的完成幼儿园的工作任务及本</tspan><tspan x="444" dy="14.5">班的保育工作。</tspan></text>
<text class="t" x="490" y="2329">二、手脚勤快、做好卫生、消毒工作</text>
<text class="t" x="232" y="2285.5"><tspan x="232">我每一天早上来园就把教室的门窗打开通风，</tspan><tspan x="232" dy="14.5">把毛巾、口杯进行消毒，并把物体表面擦的干</tspan><tspan x="232" dy="14.5">干净净，物品摆放整齐，玩具清洗消毒，在饭</tspan><tspan x="232" dy="14.5">前和饭后给幼儿洗手，擦嘴，让幼儿养成讲卫</tspan><tspan x="232" dy="14.5">生的好习惯，吃完饭用消毒液擦桌子、拖地，</tspan><tspan x="232" dy="14.5">从而减少病菌的生长，让宝宝在舒适的环境中</tspan><tspan x="232" dy="14.5">成长。</tspan></text>
<text class="t" x="536" y="2469">三、照顾好幼儿的一日生活</text>
<text class="t" x="278" y="2411"><tspan x="278">每一天定时提醒宝宝去上厕所，并给他们将裤</tspan><tspan x="278" dy="14.5">子提好。宝宝如果进行了户外活动，我及时给</tspan><tspan x="278" dy="14.5">他们抹汗、垫毛巾、更换衣服，根据天气的变</tspan><tspan x="278" dy="14.5">化给幼儿增减衣服，每次活动前提醒幼儿喝水</tspan><tspan x="278" dy="14.5">、上厕所。活动后给幼儿清洁手和面部卫生。</tspan><tspan x="278" dy="14.5">如有幼儿生病，我会按时给他们喂药，注意是</tspan><tspan x="278" dy="14.5">否发烧，对他们多多照顾。宝宝吃饭时，要教</tspan><tspan x="278" dy="14.5">育他们饭前洗手、专心吃饭，进餐时不说话，</tspan><tspan x="278" dy="14.5">不乱扔，不掉饭的好习惯。</tspan></text>
<text class="t" x="582" y="2604">四、做到保教结合</text>
<text class="t" x="325" y="2582"><tspan x="325">虽然是做保育工作，但我明白要保教结合。所</tspan><tspan x="325" dy="14.5">以我每次做完自我的卫生、消毒工作后，我还</tspan><tspan x="325" dy="14.5">会协助教师们的教学工作，以及帮教师们管理</tspan><tspan x="325" dy="14.5">好小朋友的常规工作。</tspan></text>
<text class="t" x="605" y="2777">五、家园互动</text>
<text class="t" x="352" y="2662.5"><tspan x="352">我明白要搞好班级工作，需要家长的配合。我</tspan><tspan x="352" dy="14.5">能热情对待每一位家长，注意和家长沟通。接</tspan><tspan x="352" dy="14.5">送孩子时和家长聊上几句，了解一下幼儿在家</tspan><tspan x="352" dy="14.5">的表现或者关心一下幼儿的身体情景，家长都</tspan><tspan x="352" dy="14.5">感觉十分高兴和温暖。同时，我及时向家长反</tspan><tspan x="352" dy="14.5">映幼儿在园生活、学习情景，认真听取家长提</tspan><tspan x="352" dy="14.5">议。</tspan></text>
<text class="t" x="352" y="2808"><tspan x="352">在这学期的保育工作中，我还有做得不够细致</tspan><tspan x="352" dy="14.5">的地方，需要不断的改善和完善，同时还需要</tspan><tspan x="352" dy="14.5">学习更多保育方面的知识。保育工作很锁碎，</tspan><tspan x="352" dy="14.5">也很辛苦，带给我的是酸、甜、苦、辣，但看</tspan><tspan x="352" dy="14.5">到宝宝活波可爱的样貌，并甜甜地叫我一声教</tspan><tspan x="352" dy="14.5">师时，我的心里像喝了蜜一样的甜。</tspan></text>
</g>

<g id="watermarks">
<text class="wm" text-anchor="middle" transform="translate(647,513) rotate(-30)" y="38">树图 shutu.cn</text>
<text class="wm" text-anchor="middle" transform="translate(1923,513) rotate(-30)" y="38">树图 shutu.cn</text>
<text class="wm" text-anchor="middle" transform="translate(647,1551) rotate(-30)" y="38">树图 shutu.cn</text>
<text class="wm" text-anchor="middle" transform="translate(1923,1563) rotate(-30)" y="38">树图 shutu.cn</text>
<text class="wm" text-anchor="middle" transform="translate(647,2516) rotate(-30)" y="38">树图 shutu.cn</text>
<text class="wm" text-anchor="middle" transform="translate(1923,2541) rotate(-30)" y="38">树图 shutu.cn</text>
<text class="wm" text-anchor="middle" transform="translate(647,3518) rotate(-30)" y="38">树图 shutu.cn</text>
<text class="wm" text-anchor="middle" transform="translate(1923,3518) rotate(-30)" y="38">树图 shutu.cn</text>
</g>
</svg>
